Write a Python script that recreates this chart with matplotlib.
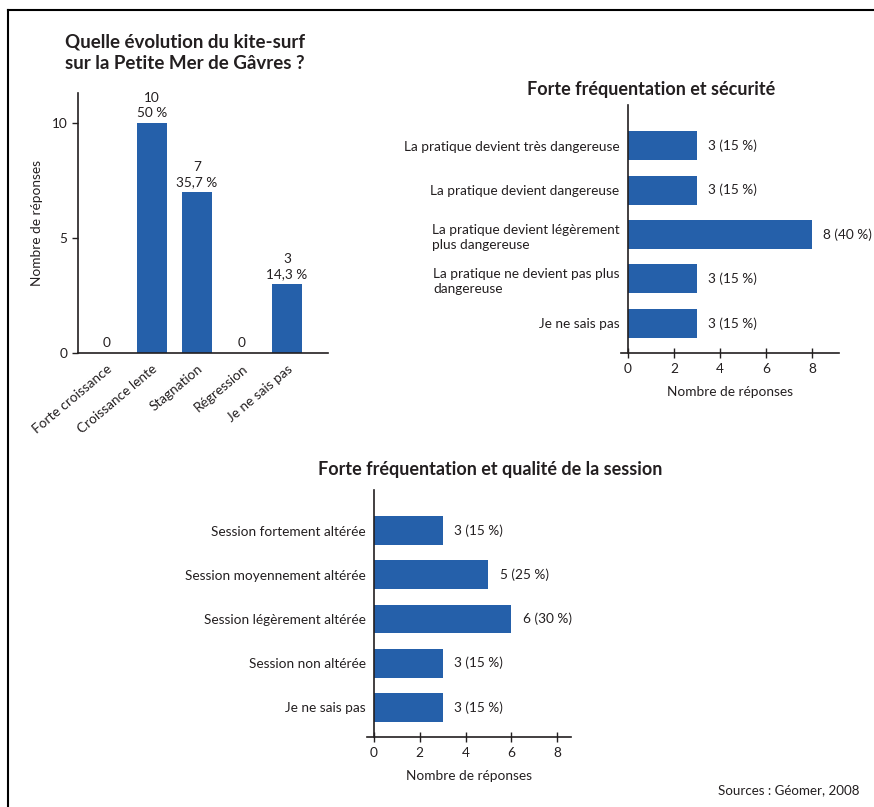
"""Kite-surf survey charts: evolution, security and session quality."""

import matplotlib

matplotlib.use("Agg")

import matplotlib.pyplot as plt
from matplotlib.lines import Line2D

# Chart 1: evolution
evolution_labels = ["Forte croissance", "Croissance lente", "Stagnation", "Régression", "Je ne sais pas"]
evolution_counts = [0, 10, 7, 0, 3]
evolution_pcts = ["", "50 %", "35,7 %", "", "14,3 %"]

# Chart 2: security
security_labels = [
    "La pratique devient très dangereuse",
    "La pratique devient dangereuse",
    "La pratique devient légèrement\nplus dangereuse",
    "La pratique ne devient pas plus\ndangereuse",
    "Je ne sais pas",
]
security_counts = [3, 3, 8, 3, 3]
security_pcts = [15, 15, 40, 15, 15]

# Chart 3: session quality
session_labels = [
    "Session fortement altérée",
    "Session moyennement altérée",
    "Session légèrement altérée",
    "Session non altérée",
    "Je ne sais pas",
]
session_counts = [3, 5, 6, 3, 3]
session_pcts = [15, 25, 30, 15, 15]

BLUE = "#2560aa"
TEXT = "#231f20"
FS = 9.8

plt.rcParams["font.family"] = ["Lato", "DejaVu Sans"]
plt.rcParams["text.color"] = TEXT
plt.rcParams["axes.labelcolor"] = TEXT
plt.rcParams["xtick.color"] = TEXT
plt.rcParams["ytick.color"] = TEXT

W, H = 874, 807
fig = plt.figure(figsize=(W / 100, H / 100), dpi=100)


def px_axes(left, top, right, bottom):
    return fig.add_axes([left / W, 1 - bottom / H, (right - left) / W, (bottom - top) / H])


def style_spines(ax):
    for side in ("top", "right"):
        ax.spines[side].set_visible(False)
    for side in ("left", "bottom"):
        ax.spines[side].set_color(TEXT)
        ax.spines[side].set_linewidth(1.2)


# --- Chart 1 ---
ax1 = px_axes(78, 93, 328, 353)
style_spines(ax1)
xs = range(len(evolution_labels))
ax1.bar(xs, evolution_counts, width=0.65, color=BLUE)
for x, c, p in zip(xs, evolution_counts, evolution_pcts):
    txt = f"{c}\n{p}" if p else f"{c}"
    ax1.annotate(txt, (x, c), xytext=(0, 3), textcoords="offset points",
                 ha="center", va="bottom", fontsize=FS, linespacing=1.25)
ax1.set_xlim(-0.64, 4.91)
ax1.set_ylim(0, 11.3)
ax1.set_yticks([0, 5, 10])
ax1.tick_params(axis="y", length=4, width=1, labelsize=FS)
ax1.set_xticks(list(xs))
ax1.set_xticklabels(evolution_labels, rotation=40, ha="right", rotation_mode="anchor", fontsize=FS)
ax1.tick_params(axis="x", length=0, pad=7)
ax1.set_ylabel("Nombre de réponses", fontsize=FS, labelpad=6)
fig.text(65 / W, 1 - 33 / H, "Quelle évolution du kite-surf\nsur la Petite Mer de Gâvres ?",
         ha="left", va="top", fontsize=13.5, fontweight="bold", linespacing=1.35)


def hbar_chart(ax, labels, counts, pcts, xmax, title, title_xy):
    style_spines(ax)
    ys = range(len(labels))
    ax.barh(ys, counts, height=0.65, color=BLUE)
    for y, c, p in zip(ys, counts, pcts):
        ax.annotate(f"{c} ({p} %)", (c, y), xytext=(8, 0), textcoords="offset points",
                    ha="left", va="center", fontsize=FS)
    ax.set_xlim(-0.3, xmax)
    ax.set_ylim(len(labels) - 1 + 0.67, -0.92)
    ax.spines["left"].set_position(("data", 0))
    ax.set_xticks([0, 2, 4, 6, 8])
    ax.tick_params(axis="x", direction="inout", length=7, width=1, labelsize=FS)
    ax.set_yticks(list(ys))
    ax.set_yticklabels(labels, fontsize=FS, multialignment="left", linespacing=1.35)
    ax.tick_params(axis="y", length=0, pad=6)
    ax.set_xlabel("Nombre de réponses", fontsize=FS, labelpad=8)
    fig.text(title_xy[0] / W, 1 - title_xy[1] / H, title, ha="center", va="center",
             fontsize=13, fontweight="bold")


# --- Chart 2 ---
ax2 = px_axes(621, 105, 839, 353)
hbar_chart(ax2, security_labels, security_counts, security_pcts, 9.17,
           "Forte fréquentation et sécurité", (651, 89))

# --- Chart 3 ---
ax3 = px_axes(367, 490, 571, 737)
hbar_chart(ax3, session_labels, session_counts, session_pcts, 8.6,
           "Forte fréquentation et qualité de la session", (490, 470))

fig.text(859 / W, 1 - 790 / H, "Sources : Géomer, 2008", ha="right", va="center", fontsize=9.6)

# frame lines (top and left)
fig.add_artist(Line2D([8 / W, 1], [1 - 10 / H, 1 - 10 / H], color="black", linewidth=1.5))
fig.add_artist(Line2D([8 / W, 8 / W], [0, 1 - 10 / H], color="black", linewidth=1.5))

fig.savefig("out.png", dpi=100)
